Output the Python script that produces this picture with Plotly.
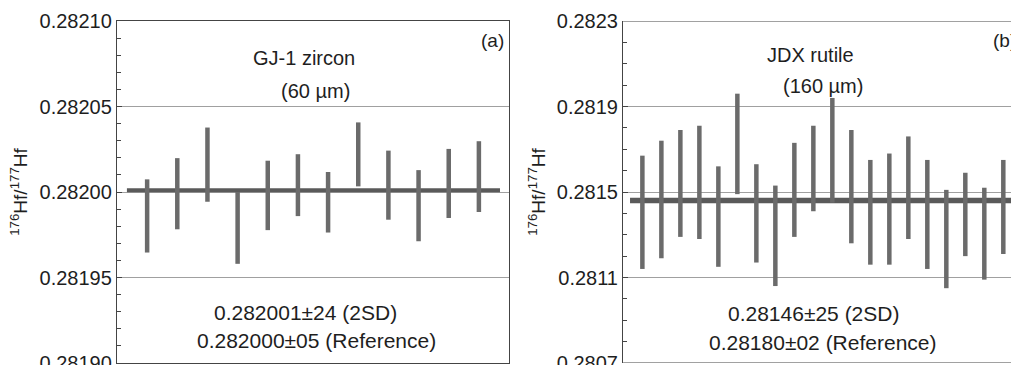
import plotly.graph_objects as go

# GJ-1 zircon (60 µm): 176Hf/177Hf per spot with 2SE
gj1_spot = list(range(1, 13))
gj1_ratio = [0.281986, 0.281999, 0.282016, 0.281979, 0.281998, 0.282004,
             0.281994, 0.282022, 0.282004, 0.281992, 0.282005, 0.282009]
gj1_err = [0.0000214, 0.0000208, 0.0000217, 0.0000210, 0.0000203, 0.0000181,
           0.0000177, 0.0000187, 0.0000202, 0.0000208, 0.0000202, 0.0000207]
gj1_mean = 0.282001

# JDX rutile (160 µm): 176Hf/177Hf per spot with 2SE
jdx_spot = list(range(1, 21))
jdx_upper = [0.28167, 0.28174, 0.28179, 0.28181, 0.28162, 0.28196, 0.28163,
             0.28153, 0.28173, 0.28181, 0.28194, 0.28179, 0.28165, 0.28168,
             0.28176, 0.28165, 0.28151, 0.28159, 0.28152, 0.28165]
jdx_lower = [0.28114, 0.28119, 0.28129, 0.28128, 0.28115, 0.28149, 0.28117,
             0.28106, 0.28129, 0.28141, 0.28145, 0.28126, 0.28116, 0.28116,
             0.28128, 0.28114, 0.28105, 0.28120, 0.28109, 0.28121]
jdx_ratio = [(u + l) / 2 for u, l in zip(jdx_upper, jdx_lower)]
jdx_err = [(u - l) / 2 for u, l in zip(jdx_upper, jdx_lower)]
jdx_mean = 0.28146

gj1_ticks = [0.28190, 0.28195, 0.28200, 0.28205, 0.28210]
jdx_ticks = [0.2807, 0.2811, 0.2815, 0.2819, 0.2823]

W, H = 1011, 365
MT, MB = 21, 2

BAR = "#6b6b6b"
MEAN = "#5a5a5a"
GRID = "#a0a0a0"
AXIS = "#444444"
TEXT = "#1e1e1e"
FONT = "Liberation Sans, Arial, sans-serif"

fig = go.Figure()

# Weighted mean lines
fig.add_trace(go.Scatter(
    x=[0.33, 12.7], y=[gj1_mean, gj1_mean], mode="lines",
    line=dict(color=MEAN, width=4), xaxis="x", yaxis="y",
    showlegend=False, hoverinfo="skip"))
fig.add_trace(go.Scatter(
    x=[0.35, 21], y=[jdx_mean, jdx_mean], mode="lines",
    line=dict(color=MEAN, width=5.5), xaxis="x2", yaxis="y2",
    showlegend=False, hoverinfo="skip"))

# Spot analyses as vertical error bars
fig.add_trace(go.Scatter(
    x=gj1_spot, y=gj1_ratio, mode="markers",
    marker=dict(size=0.1, color=BAR, opacity=0),
    error_y=dict(type="data", array=gj1_err, symmetric=True,
                 color=BAR, thickness=4.5, width=0),
    xaxis="x", yaxis="y", showlegend=False, hoverinfo="skip"))
fig.add_trace(go.Scatter(
    x=jdx_spot, y=jdx_ratio, mode="markers",
    marker=dict(size=0.1, color=BAR, opacity=0),
    error_y=dict(type="data", array=jdx_err, symmetric=True,
                 color=BAR, thickness=4.5, width=0),
    xaxis="x2", yaxis="y2", showlegend=False, hoverinfo="skip"))

tickfont = dict(family=FONT, size=20, color=TEXT)
ytitle = dict(text="<sup>176</sup>Hf/<sup>177</sup>Hf",
              font=dict(family=FONT, size=19, color=TEXT), standoff=6)

common_y = dict(domain=[0, 1], tickfont=tickfont, ticks="inside", ticklen=5,
                tickcolor=AXIS, showgrid=True, gridcolor=GRID, gridwidth=1,
                zeroline=False, showline=True, linecolor=AXIS, linewidth=1.2,
                title=ytitle, automargin=False, ticklabeloverflow="allow")

fig.update_layout(
    width=W, height=H,
    margin=dict(l=0, r=0, t=MT, b=MB),
    paper_bgcolor="white", plot_bgcolor="white",
    font=dict(family=FONT, color=TEXT),
    xaxis=dict(domain=[0.1157, 0.5035], range=[0, 13], showticklabels=False,
               ticks="", showgrid=False, zeroline=False, showline=True,
               linecolor=AXIS, linewidth=1.2, mirror=True),
    yaxis=dict(range=[gj1_ticks[0], gj1_ticks[-1]],
               tickvals=gj1_ticks, ticktext=[f"{v:.5f}" for v in gj1_ticks],
               minor=dict(dtick=0.00001, ticks="inside", ticklen=4,
                          tickcolor=AXIS, showgrid=False),
               mirror=True, anchor="x", **common_y),
    xaxis2=dict(domain=[0.6163, 1.0], range=[-0.016, 20.405],
                showticklabels=False, ticks="", showgrid=False,
                zeroline=False, showline=False),
    yaxis2=dict(range=[jdx_ticks[0], jdx_ticks[-1]],
                tickvals=jdx_ticks, ticktext=[f"{v:.4f}" for v in jdx_ticks],
                minor=dict(dtick=0.0001, ticks="inside", ticklen=4,
                           tickcolor=AXIS, showgrid=False),
                mirror=False, anchor="x2", **common_y),
)

# Frame of the right panel (top and bottom edges run off to the right)
for yv in (jdx_ticks[0], jdx_ticks[-1]):
    fig.add_shape(type="line", xref="x2 domain", yref="y2",
                  x0=0, x1=1.05, y0=yv, y1=yv,
                  line=dict(color=AXIS, width=1.2))


def note(text, px, py, size=20):
    """Place a label at a pixel position of the page."""
    fig.add_annotation(text=text, x=px / W, y=(H - MB - py) / (H - MT - MB),
                       xref="paper", yref="paper", showarrow=False,
                       xanchor="center", yanchor="middle",
                       font=dict(family=FONT, size=size, color=TEXT))


# Panel (a) labels
note("GJ-1 zircon", 304, 58)
note("(60 µm)", 315, 91)
note("(a)", 492, 40, 19)
note("0.282001±24 (2SD)", 305, 312, 21)
note("0.282000±05 (Reference)", 316, 340, 21)

# Panel (b) labels
note("JDX rutile", 810, 55)
note("(160 µm)", 823, 86)
note("(b)", 1004, 40, 19)
note("0.28146±25 (2SD)", 813, 313, 21)
note("0.28180±02 (Reference)", 823, 342, 21)

fig.write_html("out.html")
